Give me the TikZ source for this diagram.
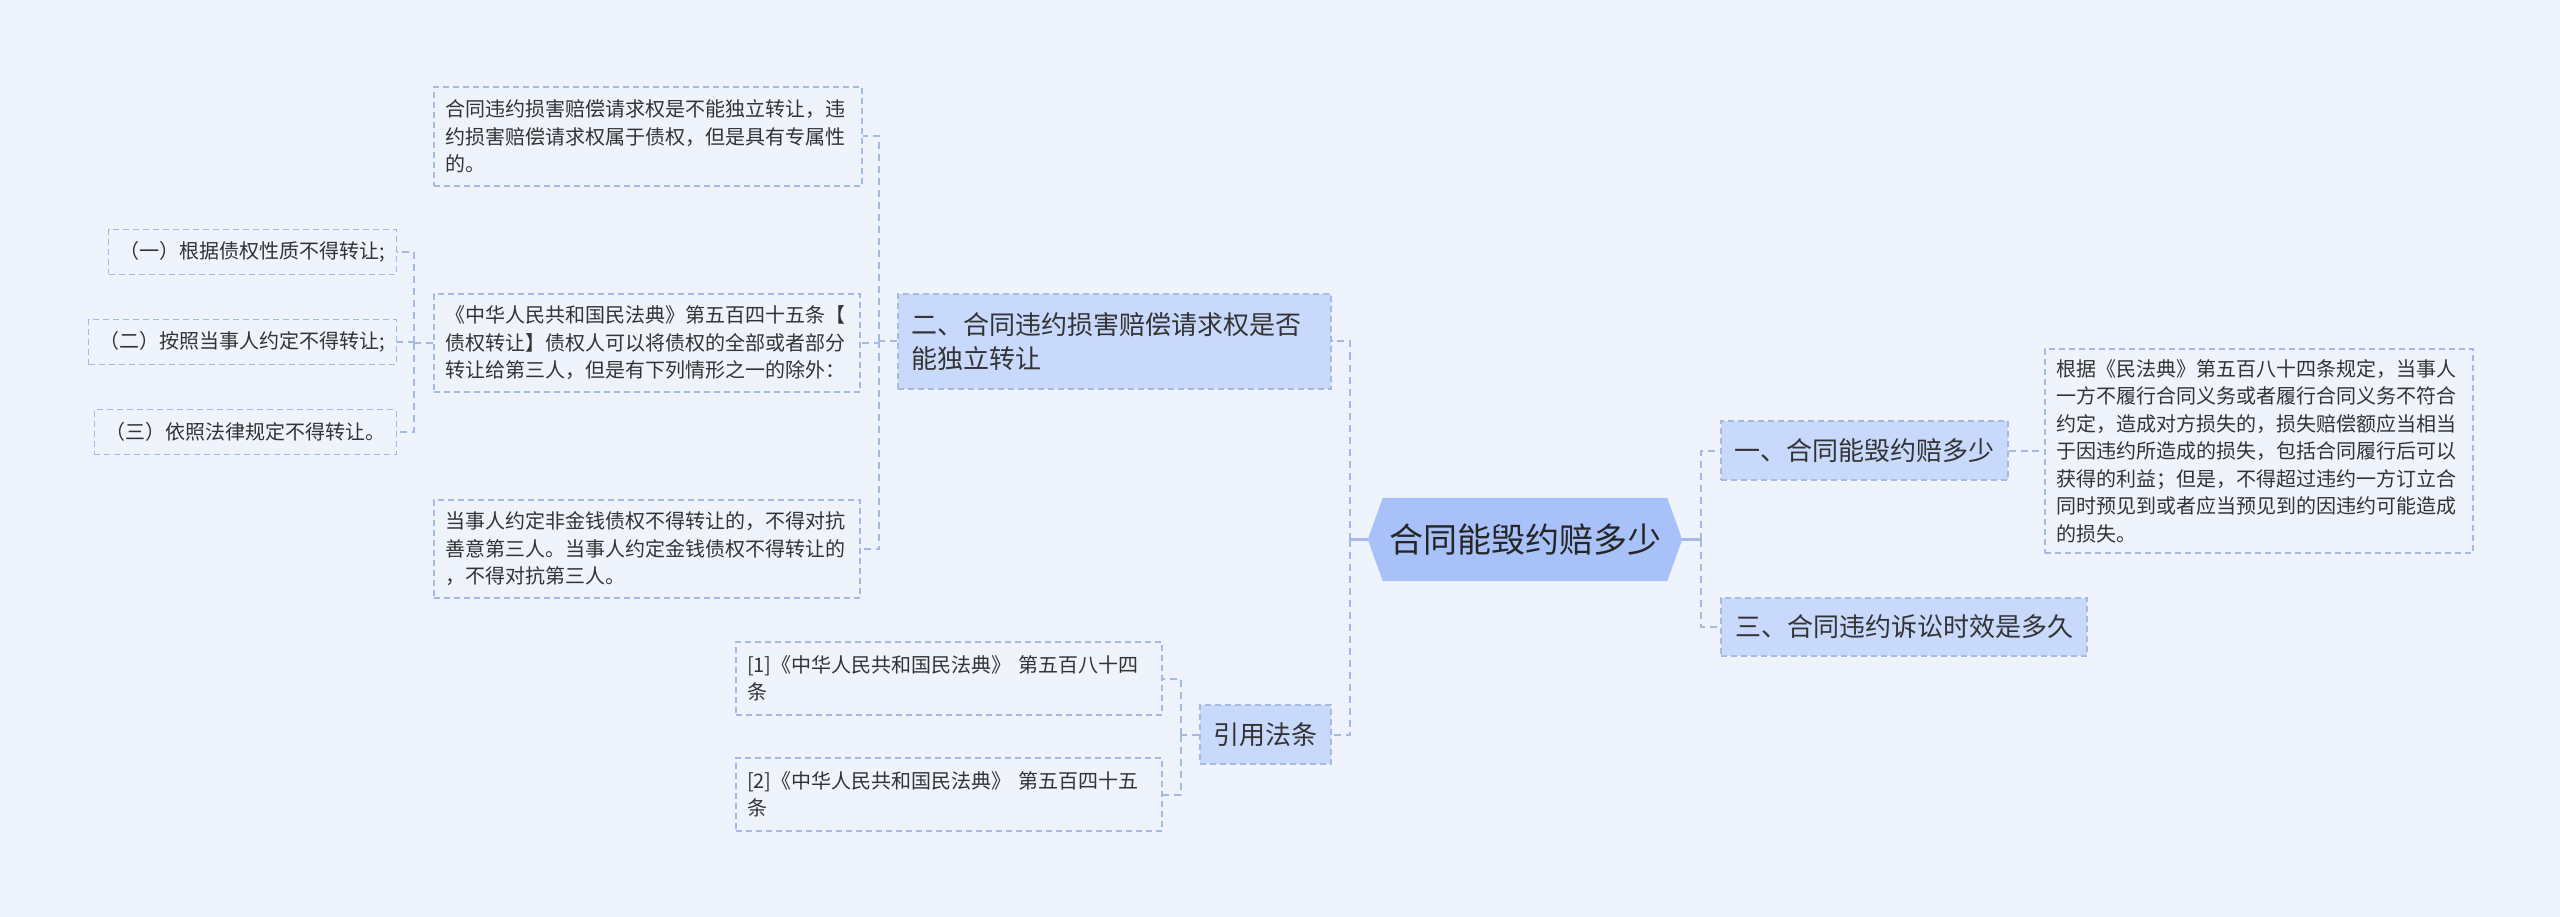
\documentclass[tikz,border=0pt]{standalone}
\usepackage{fontspec}
\setmainfont{Noto Sans CJK SC}
\usetikzlibrary{backgrounds,calc}
\definecolor{bgc}{HTML}{EEF3FC}
\definecolor{linec}{HTML}{A6B8E4}
\definecolor{brfill}{HTML}{C9D9FB}
\definecolor{rootfill}{HTML}{A8C1F8}
\definecolor{txt}{HTML}{333333}
\begin{document}
\begin{tikzpicture}[x=1pt,y=-1pt,
  box/.style={draw=linec, line width=1.3pt, dash pattern=on 6pt off 4pt, fill=bgc, text=txt,
    inner xsep=11pt, inner ysep=0pt, align=left, font=\fontsize{20}{27.5}\selectfont},
  leaf/.style={box, minimum height=45pt, anchor=east},
  branch/.style={draw=linec, line width=1.3pt, dash pattern=on 6pt off 4pt, fill=brfill, text=txt,
    inner xsep=13pt, inner ysep=0pt, align=left, font=\fontsize{26}{34}\selectfont},
  rootnode/.style={draw=none, inner sep=0pt, minimum width=314pt, minimum height=83pt,
    text=black!85, font=\fontsize{34}{40}\selectfont},
  conn/.style={draw=linec, line width=2pt, dash pattern=on 7pt off 5pt},
  stub/.style={draw=linec, line width=3pt}
]
\useasboundingbox (0,0) rectangle (2560,917);

% root
\node[rootnode] (root) at (1525,539.5) {合同能毁约赔多少};

% right side
\node[branch, minimum width=287pt, minimum height=59pt] (b1) at (1864.5,450.5) {一、合同能毁约赔多少};
\node[branch, minimum width=366pt, minimum height=58pt] (b3) at (1904,627) {三、合同违约诉讼时效是多久};
\node[box, text width=406pt, minimum height=204pt] (rt) at (2259,451) {根据《民法典》第五百八十四条规定，当事人\\一方不履行合同义务或者履行合同义务不符合\\约定，造成对方损失的，损失赔偿额应当相当\\于因违约所造成的损失，包括合同履行后可以\\获得的利益；但是，不得超过违约一方订立合\\同时预见到或者应当预见到的因违约可能造成\\的损失。};

% left side
\node[branch, text width=407pt, minimum height=95pt] (b2) at (1114.5,341.5) {二、合同违约损害赔偿请求权是否\\能独立转让};
\node[branch, minimum width=131pt, minimum height=59pt, align=center] (cite) at (1265.5,734.5) {引用法条};

\node[box, text width=406pt, minimum height=99pt] (t1) at (648,136.5) {合同违约损害赔偿请求权是不能独立转让，违\\约损害赔偿请求权属于债权，但是具有专属性\\的。};
\node[box, text width=404pt, minimum height=98pt] (t2) at (647,343) {《中华人民共和国民法典》第五百四十五条【\\债权转让】债权人可以将债权的全部或者部分\\转让给第三人，但是有下列情形之一的除外：};
\node[box, text width=404pt, minimum height=98pt] (t3) at (647,549) {当事人约定非金钱债权不得转让的，不得对抗\\善意第三人。当事人约定金钱债权不得转让的\\，不得对抗第三人。};

\node[leaf] (l1) at (397,252) {（一）根据债权性质不得转让;};
\node[leaf] (l2) at (397,342) {（二）按照当事人约定不得转让;};
\node[leaf] (l3) at (397,432) {（三）依照法律规定不得转让。};

\node[box, text width=404pt, minimum height=73pt] (r1) at (949,678.5) {[1]《中华人民共和国民法典》 第五百八十四\\条};
\node[box, text width=404pt, minimum height=73pt] (r2) at (949,794.5) {[2]《中华人民共和国民法典》 第五百四十五\\条};

% background + hexagon
\begin{scope}[on background layer]
\fill[bgc] (0,0) rectangle (2560,917);
\fill[rootfill] (root.west) -- ([xshift=15pt]root.north west) -- ([xshift=-15pt]root.north east)
  -- (root.east) -- ([xshift=-15pt]root.south east) -- ([xshift=15pt]root.south west) -- cycle;
\end{scope}

% connectors
\coordinate (rl) at ([xshift=-18pt]root.west);
\coordinate (rr) at ([xshift=19pt]root.east);
\draw[stub] (root.west) -- (rl);
\draw[stub] (root.east) -- (rr);
\draw[conn] (rl) |- (b2.east);
\draw[conn] (rl) |- (cite.east);
\draw[conn] (rr) |- (b1.west);
\draw[conn] (rr) |- (b3.west);

\coordinate (c1) at ([xshift=18pt]b1.east);
\draw[conn] (b1.east) -- (c1) |- (rt.west);

\coordinate (c2) at ([xshift=-18pt]b2.west);
\draw[conn] (b2.west) -- (c2);
\draw[conn] (c2) |- (t1.east);
\draw[conn] (c2) |- (t2.east);
\draw[conn] (c2) |- (t3.east);

\coordinate (c3) at ([xshift=-19pt]t2.west);
\draw[conn] (t2.west) -- (c3);
\draw[conn] (c3) |- (l1.east);
\draw[conn] (c3) |- (l2.east);
\draw[conn] (c3) |- (l3.east);

\coordinate (c4) at ([xshift=-18pt]cite.west);
\draw[conn] (cite.west) -- (c4);
\draw[conn] (c4) |- (r1.east);
\draw[conn] (c4) |- (r2.east);
\end{tikzpicture}
\end{document}
